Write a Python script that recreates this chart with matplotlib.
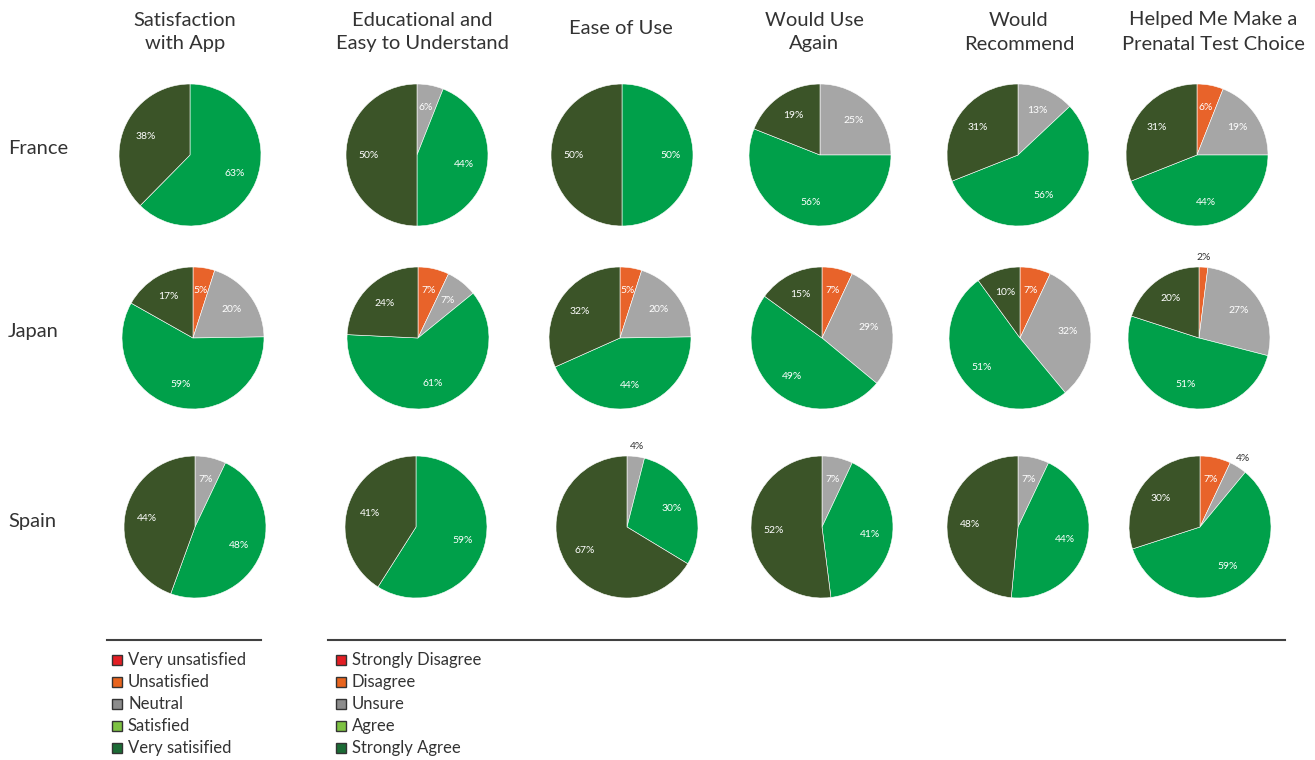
import numpy as np
import matplotlib.pyplot as plt
from matplotlib.patches import Rectangle

plt.rcParams['font.family'] = ['Lato', 'DejaVu Sans']

W, H = 1315, 760

countries = ['France', 'Japan', 'Spain']
questions = [
    'Satisfaction\nwith App',
    'Educational and\nEasy to Understand',
    'Ease of Use',
    'Would Use\nAgain',
    'Would\nRecommend',
    'Helped Me Make a\nPrenatal Test Choice',
]

# percent of answers per level: strongly disagree, disagree, unsure, agree, strongly agree
france = [
    [0, 0, 0, 63, 38],
    [0, 0, 6, 44, 50],
    [0, 0, 0, 50, 50],
    [0, 0, 25, 56, 19],
    [0, 0, 13, 56, 31],
    [0, 6, 19, 44, 31],
]
japan = [
    [0, 5, 20, 59, 17],
    [0, 7, 7, 61, 24],
    [0, 5, 20, 44, 32],
    [0, 7, 29, 49, 15],
    [0, 7, 32, 51, 10],
    [0, 2, 27, 51, 20],
]
spain = [
    [0, 0, 7, 48, 44],
    [0, 0, 0, 59, 41],
    [0, 0, 4, 30, 67],
    [0, 0, 7, 41, 52],
    [0, 0, 7, 44, 48],
    [0, 7, 4, 59, 30],
]
survey = [france, japan, spain]

satisfaction_levels = ['Very unsatisfied', 'Unsatisfied', 'Neutral', 'Satisfied', 'Very satisified']
agreement_levels = ['Strongly Disagree', 'Disagree', 'Unsure', 'Agree', 'Strongly Agree']

pie_colors = ['#e31e24', '#e8632a', '#a6a6a6', '#00a04a', '#3b5428']
key_colors = ['#e31e24', '#e8641e', '#8c8c8c', '#7dc242', '#1b6b35']
text_color = '#333333'

# pie centres in pixels (row by row)
col_x = [[190, 417, 622, 820, 1018, 1197],
         [193, 418, 620, 822, 1020, 1199],
         [195, 416, 627, 822, 1018, 1200]]
row_y = [155, 338, 527]
title_x = [185, 422, 621, 814, 1019, 1213]
radius = 71

fig = plt.figure(figsize=(W / 100, H / 100), dpi=100)
ax = fig.add_axes([0, 0, 1, 1])

for r, rows in enumerate(survey):
    for c, vals in enumerate(rows):
        vals = np.array(vals, dtype=float)
        keep = vals > 0
        cx, cy = col_x[r][c], H - row_y[r]
        wedges, _ = ax.pie(vals[keep], colors=np.array(pie_colors)[keep],
                           startangle=90, counterclock=False,
                           center=(cx, cy), radius=radius,
                           wedgeprops=dict(edgecolor='white', linewidth=0.4))
        for w, v in zip(wedges, vals[keep]):
            mid = np.deg2rad((w.theta1 + w.theta2) / 2)
            if v < 5:
                d, col = 1.14, text_color
            else:
                d, col = 0.68, 'white'
            ax.text(cx + d * radius * np.cos(mid), cy + d * radius * np.sin(mid),
                    f'{v:.0f}%', ha='center', va='center', fontsize=7.5, color=col)

for c, q in enumerate(questions):
    ty = 32 if '\n' in q else 28
    ax.text(title_x[c], H - ty, q, ha='center', va='center', fontsize=14.5,
            color=text_color, linespacing=1.5)

for r, name in enumerate(countries):
    ax.text(8, H - row_y[r] + 6, name, ha='left', va='center', fontsize=14.5,
            color=text_color)

# separator rules above the two keys
ax.plot([107, 261], [H - 640, H - 640], color='#404040', lw=1.5)
ax.plot([328, 1285], [H - 640, H - 640], color='#404040', lw=1.5)

for x0, levels in [(112, satisfaction_levels), (336, agreement_levels)]:
    for i, (lab, colr) in enumerate(zip(levels, key_colors)):
        y = H - (660 + 22 * i)
        ax.add_patch(Rectangle((x0, y - 5), 10, 10, facecolor=colr,
                               edgecolor='#333333', linewidth=1))
        ax.text(x0 + 16, y, lab, ha='left', va='center', fontsize=12,
                color=text_color)

ax.set_xlim(0, W)
ax.set_ylim(0, H)
ax.set_aspect('auto')
ax.axis('off')

fig.savefig('out.png', dpi=100, facecolor='white')
